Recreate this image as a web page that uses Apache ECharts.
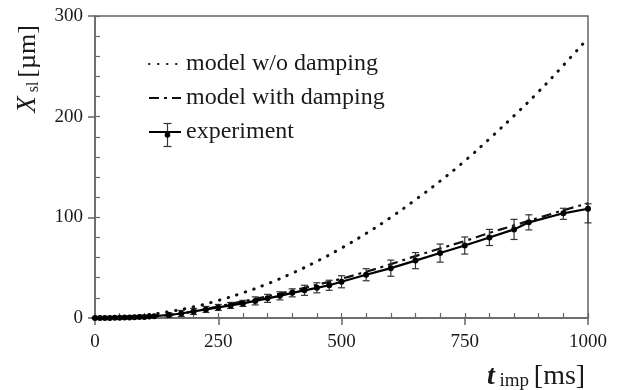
<!DOCTYPE html>
<html>
<head>
<meta charset="utf-8">
<script src="https://cdn.jsdelivr.net/npm/echarts@6/dist/echarts.min.js"></script>
<style>html,body{margin:0;padding:0;background:#fff}#c{width:617px;height:390px}</style>
</head>
<body>
<div id="c"></div>
<script>
// ---- data ----
const tModel = [0, 50, 100, 150, 200, 250, 300, 350, 400, 450, 500, 550, 600, 650, 700, 750, 800, 850, 900, 950, 1000];
const vNoDamping = [0, 0.7, 2.8, 6.3, 11.1, 17.4, 25, 34, 44.5, 56.3, 69.5, 84, 100, 117.5, 136, 156, 178, 201, 225, 251, 278];
const vDamping = [0, 0.3, 1.2, 3, 6.5, 11.5, 16.5, 21.5, 27, 33, 39, 46, 53.5, 61.5, 69, 76.5, 84.5, 92, 99.5, 107, 114];

const tExp = [0, 10, 20, 30, 40, 50, 60, 70, 80, 90, 100, 110, 120, 150, 175, 200, 225, 250, 275, 300, 325, 350, 375, 400, 425, 450, 475, 500, 550, 600, 650, 700, 750, 800, 850, 880, 950, 1000];
const vExp = [0, 0, 0, 0.1, 0.2, 0.3, 0.4, 0.5, 0.7, 0.9, 1.1, 1.4, 1.8, 3, 4.5, 6.5, 8.5, 10.5, 12.5, 14.5, 17, 19.5, 22, 25, 27.5, 30, 32.5, 36, 43, 49.5, 57, 64.5, 72, 80, 88, 95, 104, 108.5];
const errUp = [0.5, 0.5, 0.5, 0.5, 0.5, 0.5, 0.5, 0.5, 0.5, 0.5, 0.5, 0.5, 1, 2, 3, 3, 3, 3, 3, 3, 4, 4, 4, 4, 5, 5, 5, 6, 6, 8, 8, 9, 8.5, 8, 10, 7.5, 5, 5];
const errDown = [0.5, 0.5, 0.5, 0.5, 0.5, 0.5, 0.5, 0.5, 0.5, 0.5, 0.5, 0.5, 1, 2, 3, 3, 3, 3, 3, 3, 4, 4, 4, 4, 5, 5, 5, 6, 6, 8, 8, 9, 8.5, 8, 10, 7.5, 6, 14];

const xTicks = [0, 250, 500, 750, 1000];
const yTicks = [0, 100, 200, 300];
const seriesNames = ['model w/o damping', 'model with damping', 'experiment'];

// ---- build ----
const FONT = '"Liberation Serif", "Times New Roman", serif';
const AX = '#666';
const TXT = '#1a1a1a';
const pair = (xs, ys) => xs.map((x, i) => [x, ys[i]]);
const errData = tExp.map((t, i) => [t, vExp[i] - errDown[i], vExp[i] + errUp[i]]);

const chart = echarts.init(document.getElementById('c'), null, {renderer: 'canvas'});
chart.setOption({
  animation: false,
  backgroundColor: '#fff',
  grid: {left: 95, right: 29, top: 16, bottom: 72, show: true, borderColor: AX, borderWidth: 1.5, containLabel: false},
  legend: {
    orient: 'vertical', left: 143, top: 47, itemWidth: 32, itemHeight: 14, itemGap: 10,
    data: seriesNames.map(n => ({name: n, itemStyle: {opacity: 0}})),
    textStyle: {fontFamily: FONT, fontSize: 24, color: TXT}
  },
  xAxis: [{
    type: 'value', min: 0, max: 1000, interval: 250,
    axisLine: {lineStyle: {color: AX, width: 1.5}},
    axisTick: {inside: false, length: 7, lineStyle: {color: AX, width: 1.5}},
    axisLabel: {margin: 15, fontFamily: FONT, fontSize: 19, color: TXT,
      formatter: v => xTicks.includes(v) ? String(v) : ''},
    splitLine: {show: false}
  }, {
    type: 'value', min: 0, max: 1000, interval: 50, position: 'bottom',
    axisLine: {show: false},
    axisTick: {inside: true, length: 5, lineStyle: {color: AX, width: 1.2}},
    axisLabel: {show: false}, splitLine: {show: false}
  }],
  yAxis: [{
    type: 'value', min: 0, max: 300, interval: 100,
    axisLine: {show: true, lineStyle: {color: AX, width: 1.5}},
    axisTick: {show: true, inside: false, length: 7, lineStyle: {color: AX, width: 1.5}},
    axisLabel: {margin: 12, fontFamily: FONT, fontSize: 19, color: TXT,
      formatter: v => yTicks.includes(v) ? String(v) : ''},
    splitLine: {show: false}
  }, {
    type: 'value', min: 0, max: 300, interval: 20, position: 'left',
    axisLine: {show: false},
    axisTick: {show: true, inside: true, length: 5, lineStyle: {color: AX, width: 1.2}},
    axisLabel: {show: false}, splitLine: {show: false}
  }],
  series: [{
    name: seriesNames[0], type: 'line', data: pair(tModel, vNoDamping), symbol: 'none', smooth: true, z: 3,
    lineStyle: {color: '#111', width: 3, type: [0.5, 8.5], cap: 'round'},
    itemStyle: {color: '#111'}
  }, {
    name: seriesNames[1], type: 'line', data: pair(tModel, vDamping), symbol: 'none', smooth: true, z: 3,
    lineStyle: {color: '#111', width: 2.2, type: [10, 5, 3, 5]},
    itemStyle: {color: '#111'}
  }, {
    name: seriesNames[2], type: 'line', data: pair(tExp, vExp), symbol: 'circle', symbolSize: 6, z: 5,
    lineStyle: {color: '#000', width: 2.2}, itemStyle: {color: '#000'}
  }, {
    name: 'error', type: 'custom', data: errData, z: 4, clip: false,
    renderItem: function (params, api) {
      const t = api.value(0);
      const lo = api.coord([t, api.value(1)]);
      const hi = api.coord([t, api.value(2)]);
      const w = 3.5;
      const st = {stroke: '#333', lineWidth: 1.2};
      return {type: 'group', children: [
        {type: 'line', shape: {x1: lo[0], y1: lo[1], x2: hi[0], y2: hi[1]}, style: st},
        {type: 'line', shape: {x1: lo[0] - w, y1: lo[1], x2: lo[0] + w, y2: lo[1]}, style: st},
        {type: 'line', shape: {x1: hi[0] - w, y1: hi[1], x2: hi[0] + w, y2: hi[1]}, style: st}
      ]};
    }
  }],
  graphic: [{
    type: 'group', left: 161, top: 121, children: [
      {type: 'line', shape: {x1: 4, y1: 0, x2: 4, y2: 23}, style: {stroke: '#333', lineWidth: 1.2}},
      {type: 'line', shape: {x1: 0, y1: 0, x2: 8, y2: 0}, style: {stroke: '#333', lineWidth: 1.2}},
      {type: 'line', shape: {x1: 0, y1: 23, x2: 8, y2: 23}, style: {stroke: '#333', lineWidth: 1.2}},
      {type: 'circle', shape: {cx: 4, cy: 11.5, r: 2.8}, style: {fill: '#000'}}
    ]
  }, {
    type: 'text', x: 28, y: 69, rotation: Math.PI / 2,
    style: {
      text: '{i|X}{s| sl }{n|[µm]}', align: 'center', verticalAlign: 'middle', fill: TXT,
      rich: {
        i: {fontFamily: FONT, fontStyle: 'italic', fontSize: 27, lineHeight: 28, fill: TXT},
        s: {fontFamily: FONT, fontSize: 16, lineHeight: 16, verticalAlign: 'bottom', fill: TXT},
        n: {fontFamily: FONT, fontSize: 26, lineHeight: 28, fill: TXT}
      }
    }
  }, {
    type: 'text', x: 487, y: 377,
    style: {
      text: '{i|t}{s| imp }{n|[ms]}', align: 'left', verticalAlign: 'middle', fill: TXT,
      rich: {
        i: {fontFamily: FONT, fontStyle: 'italic', fontWeight: 'bold', fontSize: 28, lineHeight: 28, fill: TXT},
        s: {fontFamily: FONT, fontSize: 19, lineHeight: 16, verticalAlign: 'bottom', fill: TXT},
        n: {fontFamily: FONT, fontSize: 28, lineHeight: 28, fill: TXT}
      }
    }
  }]
});
</script>
</body>
</html>
